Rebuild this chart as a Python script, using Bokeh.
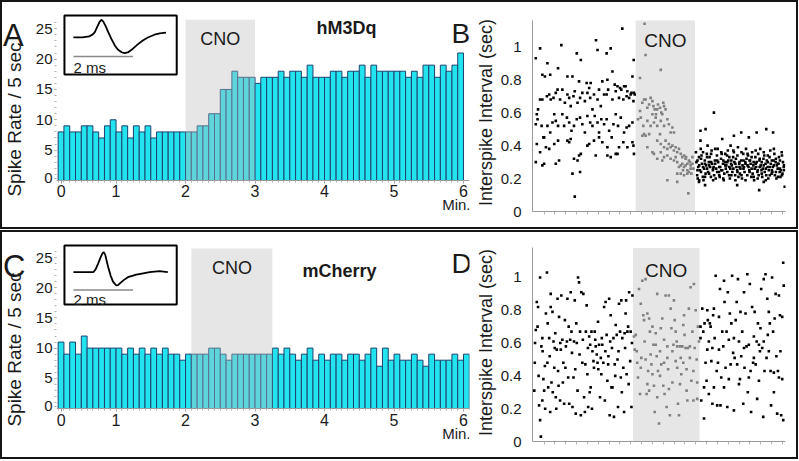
import math
from bokeh.plotting import figure
from bokeh.layouts import row, column
from bokeh.models import Range1d, FixedTicker, Label, NumeralTickFormatter, AllLabels
from bokeh.embed import file_html
from bokeh.resources import INLINE

FONT = "Liberation Sans"

# ---------------- data ----------------
BIN_MIN = 5 / 60          # 5 s bins, in minutes
START_MIN = 10 / 60       # first bin start

A_RATE = [8, 9, 8, 8, 9, 9, 8, 7, 9, 10, 8, 9, 7, 9, 8, 9, 7, 8, 8, 8, 8, 8,
          8, 8, 9, 9, 11, 11, 15, 15, 18, 17, 17, 17,
          16, 17, 17, 17, 18, 17, 18, 18, 17, 19, 17, 17, 17, 18, 18, 17, 18, 18,
          19, 17, 19, 18, 18, 18, 18, 18, 17, 18, 17, 19, 19, 17, 19, 18, 19, 21]
C_RATE = [11, 9, 11, 9, 12, 10, 10, 10, 10, 10, 10, 9, 10, 9, 10, 9, 10, 9, 10, 9, 9, 8, 9,
          9, 9, 9, 10, 10, 9, 8, 9, 9, 9, 9, 9, 9, 9,
          10, 9, 10, 9, 8, 9, 10, 8, 9, 8, 9, 9, 8, 9, 9, 8, 9, 10, 7, 10, 8, 9, 8, 8,
          9, 8, 7, 9, 8, 8, 8, 9, 8, 9]
A_CNO = [2.0, 3.0]
C_CNO = [125 / 60, 195 / 60]
B_CNO = [40.8, 64.2]
D_CNO = [39.7, 66.0]

# the reference prints its "0" label a little right of the first bin edge
TIME_TICKS = [0.21, 1, 2, 3, 4, 5, 6]
TIME_LABELS = ["0", "1", "2", "3", "4", "5", "6"]
RATE_TICKS = [0, 5, 10, 15, 20, 25]
RATE_LABELS = ["0", "5", "10", "15", "20", "25"]
ISI_TICKS = [0, 0.2, 0.4, 0.6, 0.8, 1.0]

# spike waveforms (ms, normalised amplitude)
WAVE_A_T = [0, 0.3, 0.53, 0.65, 0.72, 0.8, 0.88, 0.94, 1.0, 1.08, 1.17, 1.28, 1.39, 1.5,
            1.62, 1.72, 1.85, 2.0, 2.15, 2.33, 2.5, 2.72, 2.9, 3.11]
WAVE_A_V = [0, 0, 0.06, 0.18, 0.31, 0.62, 0.92, 1.04, 0.95, 0.68, 0.31, -0.1, -0.47, -0.72,
            -0.87, -0.92, -0.86, -0.66, -0.42, -0.18, 0.0, 0.16, 0.24, 0.28]
WAVE_C_T = [0, 0.4, 0.67, 0.75, 0.83, 0.92, 0.98, 1.02, 1.07, 1.12, 1.17, 1.25, 1.33, 1.44,
            1.5, 1.56, 1.7, 1.83, 2.0, 2.11, 2.3, 2.56, 2.89, 3.17]
WAVE_C_V = [0, 0, 0, 0.18, 0.51, 0.9, 1.12, 1.18, 1.02, 0.65, 0.29, -0.2, -0.55, -0.78,
            -0.76, -0.66, -0.45, -0.29, -0.2, -0.14, -0.08, 0, 0.06, 0]
SCALE_MS = 2

# interspike intervals (time in % of record, ISI in s)
B_PRE = [(1.3, 0.93), (3.0, 0.99), (11.4, 1.01), (25.1, 1.04), (25.7, 0.98), (30.9, 0.99),
         (29.3, 0.96), (17.5, 0.96), (19.1, 0.92), (35.5, 1.11), (40.0, 0.92),
         (5.9, 0.90), (3.9, 0.83), (4.9, 0.82), (7.0, 0.83), (10.1, 0.87), (13.8, 0.82),
         (15.8, 0.82), (18.4, 0.79), (21.4, 0.78), (22.4, 0.75), (23.0, 0.78), (27.6, 0.79),
         (29.6, 0.80), (31.6, 0.85), (32.5, 0.77), (33.6, 0.76), (34.6, 0.75), (36.2, 0.76),
         (36.8, 0.76), (37.5, 0.73), (38.8, 0.71), (40.1, 0.72), (39.5, 0.82),
         (1.7, 0.59), (2.2, 0.62), (3.0, 0.68), (3.9, 0.68), (5.7, 0.70), (6.6, 0.71),
         (7.2, 0.68), (8.3, 0.69), (9.2, 0.72), (9.9, 0.74), (10.9, 0.68), (11.8, 0.74),
         (12.8, 0.66), (13.8, 0.71), (14.5, 0.69), (15.1, 0.64), (16.2, 0.70), (16.7, 0.73),
         (17.8, 0.66), (18.8, 0.69), (19.7, 0.72), (20.7, 0.67), (21.7, 0.72), (22.8, 0.69),
         (23.7, 0.62), (24.3, 0.71), (25.7, 0.68), (26.3, 0.74), (27.0, 0.64), (28.3, 0.71),
         (29.3, 0.71), (29.9, 0.74), (31.6, 0.68), (32.9, 0.73), (34.2, 0.69), (35.1, 0.74),
         (35.9, 0.68), (37.2, 0.70), (38.2, 0.69), (39.1, 0.72), (39.9, 0.67), (40.4, 0.71),
         (1.3, 0.53), (2.0, 0.56), (3.6, 0.52), (4.6, 0.45), (5.9, 0.52), (7.0, 0.48),
         (7.9, 0.54), (8.6, 0.59), (9.2, 0.55), (10.1, 0.52), (11.8, 0.59), (12.5, 0.52),
         (13.6, 0.57), (14.5, 0.54), (15.4, 0.49), (16.4, 0.52), (17.5, 0.56), (18.8, 0.57),
         (19.7, 0.53), (20.7, 0.48), (21.7, 0.58), (22.8, 0.54), (23.7, 0.52), (24.6, 0.58),
         (25.7, 0.54), (26.3, 0.48), (27.2, 0.56), (28.3, 0.53), (29.3, 0.56), (30.3, 0.49),
         (32.0, 0.53), (32.9, 0.59), (33.8, 0.52), (34.9, 0.57), (36.2, 0.48), (37.2, 0.51),
         (38.2, 0.52), (39.5, 0.54),
         (1.7, 0.41), (3.0, 0.36), (4.3, 0.45), (5.3, 0.39), (6.6, 0.38), (8.6, 0.41),
         (10.1, 0.43), (13.8, 0.43), (14.5, 0.42), (15.1, 0.44), (17.8, 0.31), (19.1, 0.35),
         (21.7, 0.40), (22.4, 0.41), (24.3, 0.43), (26.3, 0.45), (27.6, 0.42), (29.6, 0.39),
         (31.3, 0.45), (32.9, 0.35), (34.2, 0.39), (35.9, 0.42), (37.5, 0.39), (39.5, 0.42),
         (39.9, 0.40), (40.1, 0.35), (1.3, 0.30), (3.9, 0.28), (4.6, 0.29), (9.2, 0.29),
         (10.5, 0.31), (25.0, 0.34), (29.6, 0.34), (30.9, 0.33), (33.6, 0.35), (16.4, 0.32),
         (18.4, 0.34), (15.8, 0.23), (18.8, 0.24), (16.7, 0.09)]
B_DURING = [(41.7, 0.56), (42.5, 0.61), (43.4, 0.66), (44.1, 0.68), (44.7, 0.68), (45.4, 0.63),
            (46.1, 0.65), (46.7, 0.69), (47.4, 0.67), (47.8, 0.64), (48.3, 0.62), (48.8, 0.59),
            (49.3, 0.62), (49.6, 0.65), (50.4, 0.63), (50.9, 0.60), (51.3, 0.59), (51.7, 0.66),
            (52.0, 0.64), (52.6, 0.62), (44.1, 0.47), (44.7, 0.46), (46.1, 0.47), (42.8, 0.57),
            (43.8, 0.52), (45.4, 0.55), (46.7, 0.52), (47.4, 0.59), (48.0, 0.54), (48.7, 0.57),
            (49.3, 0.52), (50.7, 0.55), (52.0, 0.52), (53.3, 0.56), (53.9, 0.53), (54.6, 0.48),
            (55.3, 0.51), (55.9, 0.48), (49.3, 0.43), (50.7, 0.41), (52.0, 0.39), (52.6, 0.43),
            (53.3, 0.38), (53.9, 0.41), (54.6, 0.39), (55.3, 0.40), (55.9, 0.37), (56.6, 0.39),
            (57.2, 0.36), (57.9, 0.38), (58.6, 0.35), (59.2, 0.33), (59.9, 0.34), (60.5, 0.32),
            (61.2, 0.29), (61.8, 0.31), (62.5, 0.28), (63.2, 0.29), (50.7, 0.36), (52.0, 0.33),
            (53.3, 0.34), (54.6, 0.32), (55.9, 0.31), (57.2, 0.30), (58.6, 0.28), (59.9, 0.27),
            (61.2, 0.25), (62.5, 0.26), (63.2, 0.33), (57.2, 0.23), (58.6, 0.23), (59.9, 0.22),
            (61.2, 0.23), (61.8, 0.24), (63.6, 0.26), (49.3, 0.32), (51.3, 0.31), (47.4, 0.36),
            (48.0, 0.35), (53.3, 0.19), (57.2, 0.18), (61.6, 0.11), (50.4, 0.47), (45.4, 0.39),
            (44.7, 0.95), (50.7, 0.86), (42.5, 0.81), (43.4, 0.46), (44.3, 1.14), (59.2, 0.29),
            (60.5, 0.28), (59.5, 0.25), (62.2, 0.30), (62.8, 0.23), (60.7, 0.33), (57.9, 0.27),
            (56.6, 0.33)]
B_POST = [(64.8, .30), (65.1, .22), (64.6, .36), (65.5, .27), (65.8, .33), (65.3, .20),
          (66.2, .25), (66.5, .38), (67.0, .29), (67.3, .21), (66.8, .34), (67.8, .26),
          (68.1, .31), (67.6, .19), (68.6, .28), (68.9, .35), (68.4, .23), (69.4, .24),
          (69.7, .30), (69.2, .40), (70.2, .27), (70.5, .21), (70.0, .33), (71.0, .29),
          (71.3, .25), (70.8, .37), (71.8, .22), (72.1, .31), (71.6, .27), (72.6, .26),
          (72.9, .34), (72.4, .20), (73.4, .30), (73.7, .24), (73.2, .38), (74.2, .27),
          (74.5, .32), (74.0, .21), (75.0, .25), (75.3, .29), (74.8, .35), (75.8, .23),
          (76.1, .30), (75.6, .19), (76.6, .28), (76.9, .34), (76.4, .26), (77.4, .31),
          (77.7, .22), (77.2, .37), (78.2, .26), (78.5, .29), (78.0, .20), (79.0, .24),
          (79.3, .33), (78.8, .28), (79.8, .30), (80.1, .22), (79.6, .36), (80.6, .27),
          (80.9, .25), (80.4, .32), (81.4, .21), (81.7, .29), (81.2, .39), (82.2, .26),
          (82.5, .31), (82.0, .23), (83.0, .28), (83.3, .35), (82.8, .20), (83.8, .24),
          (84.1, .30), (83.6, .27), (84.6, .32), (84.9, .22), (84.4, .38), (85.4, .27),
          (85.7, .25), (85.2, .34), (86.2, .29), (86.5, .21), (86.0, .31), (87.0, .23),
          (87.3, .28), (86.8, .36), (87.8, .26), (88.1, .33), (87.6, .19), (88.6, .30),
          (88.9, .24), (88.4, .27), (89.4, .22), (89.7, .31), (89.2, .35), (90.2, .28),
          (90.5, .25), (90.0, .38), (91.0, .26), (91.3, .32), (90.8, .21), (91.8, .24),
          (92.1, .29), (91.6, .34), (92.6, .31), (92.9, .27), (92.4, .22), (93.4, .25),
          (93.7, .33), (93.2, .20), (94.2, .29), (94.5, .23), (94.0, .37), (95.0, .27),
          (95.3, .31), (94.8, .24), (95.8, .22), (96.1, .30), (95.6, .35), (96.6, .28),
          (96.9, .26), (96.4, .20), (97.4, .33), (97.7, .24), (97.2, .29), (98.2, .25),
          (98.5, .36), (98.0, .21), (99.0, .30), (99.3, .27), (98.8, .23),
          (65.2, .25), (65.2, .31), (65.9, .28), (65.9, .19), (66.6, .32), (66.6, .24),
          (67.4, .27), (67.4, .36), (68.2, .21), (68.2, .29), (69.0, .33), (69.0, .26),
          (69.8, .23), (69.8, .28), (70.6, .35), (70.6, .30), (71.4, .19), (71.4, .26),
          (72.2, .29), (72.2, .38), (73.0, .24), (73.0, .31), (73.8, .27), (73.8, .22),
          (74.6, .36), (74.6, .25), (75.4, .20), (75.4, .31), (76.2, .28), (76.2, .35),
          (77.0, .24), (77.0, .30), (77.8, .33), (77.8, .27), (78.6, .22), (78.6, .31),
          (79.4, .26), (79.4, .37), (80.2, .29), (80.2, .19), (81.0, .34), (81.0, .24),
          (81.8, .27), (81.8, .30), (82.6, .22), (82.6, .36), (83.4, .31), (83.4, .26),
          (84.2, .19), (84.2, .29), (85.0, .28), (85.0, .35), (85.8, .24), (85.8, .31),
          (86.6, .33), (86.6, .26), (87.4, .21), (87.4, .30), (88.2, .29), (88.2, .37),
          (89.0, .25), (89.0, .20), (89.8, .32), (89.8, .27), (90.6, .23), (90.6, .30),
          (91.4, .36), (91.4, .28), (92.2, .26), (92.2, .19), (93.0, .30), (93.0, .34),
          (93.8, .22), (93.8, .27), (94.6, .31), (94.6, .25), (95.4, .28), (95.4, .38),
          (96.2, .24), (96.2, .32), (97.0, .29), (97.0, .21), (97.8, .26), (97.8, .31),
          (98.6, .34), (98.6, .22), (99.4, .28), (99.4, .25),
          (71.7, 0.60), (66.4, 0.49), (68.4, 0.50), (82.5, 0.48), (88.6, 0.48), (92.4, 0.50),
          (95.1, 0.48), (66.4, 0.43), (75.0, 0.44), (79.6, 0.46), (85.5, 0.45), (78.3, 0.40),
          (91.4, 0.18), (89.6, 0.13), (99.7, 0.15), (80.9, 0.16), (65.8, 0.18), (68.2, 0.16)]

D_PRE = [(0.7, 0.31), (0.9, 0.48), (1.3, 0.68), (1.7, 0.85), (2.0, 0.70), (2.2, 0.82), (2.6, 0.22),
         (3.0, 0.13), (3.0, 1.00), (3.3, 0.03), (3.9, 0.63), (4.3, 0.38), (3.9, 0.25), (4.6, 0.31),
         (4.9, 0.46), (5.3, 0.78), (5.7, 1.03), (5.9, 0.48), (6.2, 0.33), (6.6, 0.63), (7.0, 0.18),
         (7.2, 0.90), (7.5, 0.36), (7.2, 0.82), (7.9, 0.79), (8.3, 0.61), (8.6, 0.45), (8.8, 0.57),
         (9.2, 0.27), (9.6, 0.56), (9.9, 0.87), (10.1, 0.43), (10.5, 0.76), (10.9, 0.25),
         (11.2, 0.56), (11.4, 0.89), (11.8, 0.62), (12.2, 0.48), (12.5, 0.23), (12.8, 0.74),
         (13.2, 0.58), (13.6, 0.61), (13.8, 0.87), (14.1, 0.39), (14.5, 0.23), (14.9, 0.62),
         (15.1, 0.91), (15.4, 0.67), (15.8, 0.21), (16.2, 0.39), (16.4, 0.61), (16.7, 0.86),
         (17.1, 0.17), (17.5, 0.60), (17.8, 0.31), (18.0, 1.00), (18.4, 0.97), (18.8, 0.67),
         (19.1, 0.16), (19.3, 0.91), (19.7, 0.48), (20.1, 0.90), (20.4, 0.27), (20.7, 0.18),
         (21.1, 0.67), (21.4, 0.83), (21.7, 0.41), (22.0, 0.21), (22.4, 0.64), (22.8, 0.59),
         (23.0, 0.33), (23.3, 0.67), (23.7, 0.55), (24.1, 0.49), (24.3, 0.45), (24.6, 0.67),
         (25.0, 0.58), (25.4, 0.53), (25.7, 0.48), (25.9, 0.73), (26.3, 0.59), (26.7, 0.27),
         (27.0, 0.51), (27.2, 0.41), (27.6, 0.59), (28.0, 0.48), (28.3, 0.82), (28.6, 0.25),
         (28.9, 0.85), (29.3, 0.65), (29.6, 0.37), (29.9, 0.47), (30.3, 0.87), (30.7, 0.61),
         (30.9, 0.77), (31.2, 0.33), (31.6, 0.33), (32.0, 0.63), (32.2, 0.15), (32.5, 0.47),
         (32.9, 0.71), (33.3, 0.65), (33.6, 0.50), (33.8, 0.21), (34.2, 0.84), (34.6, 0.67),
         (34.9, 0.39), (35.1, 0.86), (35.5, 0.63), (35.9, 0.45), (36.2, 0.18), (36.4, 0.66),
         (36.8, 0.78), (37.2, 0.41), (37.5, 0.67), (37.8, 0.70), (38.2, 0.91), (38.6, 0.49),
         (38.8, 0.67), (39.1, 0.21), (39.5, 0.89),
         (1.0, 0.60), (2.4, 0.40), (4.0, 0.55), (5.0, 0.20), (6.0, 0.72), (6.8, 0.52), (8.0, 0.30),
         (9.0, 0.66), (10.3, 0.34), (11.0, 0.60), (12.0, 0.36), (13.0, 0.45), (14.3, 0.70),
         (15.6, 0.54), (16.9, 0.44), (17.3, 0.72), (18.6, 0.53), (19.9, 0.62), (20.9, 0.47),
         (21.9, 0.57), (23.5, 0.20), (24.8, 0.62), (26.0, 0.44), (27.4, 0.63), (28.8, 0.55),
         (30.0, 0.52), (31.4, 0.57), (32.7, 0.40), (34.0, 0.55), (35.3, 0.30), (36.6, 0.57),
         (38.0, 0.35), (39.3, 0.60), (3.5, 0.58), (9.4, 0.20), (22.6, 0.30), (30.5, 0.16),
         (37.0, 0.86)]
D_DURING = [(40.1, 0.64), (40.4, 0.56), (40.8, 0.65), (41.2, 0.55), (41.4, 0.48), (41.7, 0.39),
            (42.1, 0.93), (42.5, 0.29), (42.8, 0.84), (43.0, 0.51), (43.4, 0.98), (43.8, 0.77),
            (44.1, 0.74), (44.3, 0.61), (44.7, 0.99), (45.1, 0.29), (45.4, 0.78), (45.7, 0.43),
            (46.1, 0.75), (46.4, 0.67), (46.7, 0.53), (47.0, 0.47), (47.4, 0.70), (47.8, 0.59),
            (48.0, 0.34), (48.3, 0.18), (48.7, 0.66), (49.1, 0.52), (49.3, 0.90), (49.6, 0.43),
            (50.0, 0.11), (50.4, 0.55), (50.7, 0.69), (50.9, 0.47), (51.3, 0.75), (51.7, 0.34),
            (52.0, 0.62), (52.2, 0.29), (52.6, 0.89), (53.0, 0.21), (53.3, 0.51), (53.6, 0.44),
            (53.9, 0.89), (54.3, 0.16), (54.6, 0.81), (54.9, 0.69), (55.3, 0.36), (55.7, 0.59),
            (55.9, 0.86), (56.2, 0.74), (56.6, 0.49), (57.0, 0.61), (57.2, 0.45), (57.5, 0.23),
            (57.9, 0.16), (58.3, 0.58), (58.6, 0.51), (58.8, 0.41), (59.2, 0.58), (59.6, 0.48),
            (59.9, 0.77), (60.1, 0.65), (60.5, 0.57), (60.9, 0.44), (61.2, 0.25), (61.4, 0.57),
            (61.8, 0.81), (62.2, 0.51), (62.5, 0.94), (62.8, 0.37), (63.2, 0.67), (63.6, 0.25),
            (63.8, 0.96), (64.1, 0.57), (64.5, 0.80), (64.9, 0.50), (65.1, 0.36), (65.4, 0.70),
            (65.8, 0.61), (42.8, 0.45), (44.7, 0.50), (46.1, 0.31), (47.4, 0.41), (48.7, 0.59),
            (50.4, 0.40), (52.0, 0.48), (53.9, 0.32), (55.3, 0.55), (56.6, 0.67), (58.3, 0.35),
            (59.6, 0.71), (60.9, 0.31), (62.2, 0.58), (63.6, 0.43), (65.1, 0.26), (53.3, 0.58),
            (49.3, 0.27), (45.4, 0.35), (57.2, 0.58)]
D_POST = [(66.4, 0.70), (66.7, 0.25), (67.1, 0.81), (67.5, 0.67), (67.8, 0.14), (68.0, 0.72),
          (68.4, 0.48), (68.8, 0.37), (69.1, 0.80), (69.3, 0.74), (69.7, 0.61), (70.1, 0.72),
          (70.4, 0.70), (70.7, 0.49), (71.1, 0.23), (71.4, 0.77), (71.7, 0.81), (72.0, 0.63),
          (72.4, 1.01), (72.8, 0.43), (73.0, 0.22), (73.3, 0.48), (73.7, 0.76), (74.1, 0.93),
          (74.3, 0.22), (74.6, 0.39), (75.0, 0.67), (75.4, 0.58), (75.7, 0.98), (75.9, 0.85),
          (76.3, 0.45), (76.7, 0.67), (77.0, 0.21), (77.2, 0.91), (77.6, 0.62), (78.0, 0.78),
          (78.3, 0.47), (78.6, 0.72), (78.9, 1.01), (79.3, 0.54), (79.6, 0.19), (79.9, 0.51),
          (80.3, 0.74), (80.7, 0.85), (80.9, 0.47), (81.2, 0.99), (81.6, 0.61), (82.0, 0.38),
          (82.2, 0.79), (82.5, 0.52), (82.9, 0.67), (83.3, 0.23), (83.6, 0.91), (83.8, 0.45),
          (84.2, 0.78), (84.6, 0.58), (84.9, 1.02), (85.1, 0.30), (85.5, 0.59), (85.9, 0.96),
          (86.2, 0.43), (86.4, 0.18), (86.8, 0.82), (87.2, 0.48), (87.5, 0.64), (87.8, 0.79),
          (88.2, 0.47), (88.6, 0.61), (88.8, 0.26), (89.1, 0.72), (89.5, 0.59), (89.9, 0.55),
          (90.1, 0.69), (90.4, 0.93), (90.8, 0.57), (91.2, 0.15), (91.4, 0.99), (91.7, 0.43),
          (92.1, 1.02), (92.5, 0.51), (92.8, 0.87), (93.0, 0.65), (93.4, 0.79), (93.8, 0.72),
          (94.1, 0.43), (94.3, 0.22), (94.7, 1.00), (95.1, 0.67), (95.4, 0.42), (95.7, 0.75),
          (96.1, 0.90), (96.4, 0.52), (96.7, 0.17), (97.0, 0.43), (97.4, 0.89), (97.8, 0.77),
          (98.0, 0.55), (98.3, 0.16), (98.7, 0.38), (99.1, 1.09), (99.1, 0.13), (99.3, 0.95),
          (67.8, 0.33), (69.7, 0.29), (71.7, 0.33), (73.7, 0.56), (75.7, 0.33), (77.6, 0.38),
          (79.6, 0.63), (81.6, 0.35), (83.6, 0.57), (85.5, 0.39), (87.5, 0.51), (89.5, 0.37),
          (91.4, 0.61), (93.4, 0.55), (95.4, 0.30), (97.4, 0.39), (98.7, 0.76), (66.4, 0.63),
          (69.1, 0.56), (71.1, 0.57)]

# ---------------- styling ----------------
CYAN = "#22e4ee"
EDGE = "#1d4270"
SHADE = "#e6e6e6"
AXIS_GREY = "#9a9a9a"
INK = "#1a1a1a"

# every figure in a row shares the same frame top/bottom (11 px above, 16 px below)
MB_TOP, MB_BOT = 11, 16


def style_axis(ax, size="16px"):
    ax.axis_line_color = AXIS_GREY
    ax.major_tick_line_color = AXIS_GREY
    ax.minor_tick_line_color = "#b0b0b0"
    ax.major_tick_in = 0
    ax.minor_tick_in = 0
    ax.major_label_text_font = FONT
    ax.major_label_text_font_size = size
    ax.major_label_text_color = INK
    ax.axis_label_text_font = FONT
    ax.axis_label_text_font_style = "normal"
    ax.axis_label_text_color = INK
    ax.major_label_policy = AllLabels()


def add_label(p, text, x, y, size, x_units="screen", y_units="screen", align="left",
              bold=False, baseline="alphabetic", **kw):
    p.add_layout(Label(x=x, y=y, x_units=x_units, y_units=y_units, text=text,
                       text_font=FONT, text_font_size=size, text_align=align,
                       text_baseline=baseline, text_color=INK,
                       text_font_style="bold" if bold else "normal", **kw))


def base_fig(width, xr, yr, mbl, mbr, **kw):
    p = figure(width=width, height=225, x_range=xr, y_range=yr, title=None,
               output_backend="svg", toolbar_location=None,
               min_border_left=mbl, min_border_right=mbr,
               min_border_top=MB_TOP, min_border_bottom=MB_BOT, **kw)
    p.grid.visible = False
    p.outline_line_color = None
    p.background_fill_color = "white"
    p.border_fill_color = "white"
    return p


def strip_fig(letter, y0, letter_base, title_mid):
    """Left strip holding the panel letter and the rotated y-axis title (page-pixel ranges)."""
    s = base_fig(30, Range1d(2, 32), Range1d(y0 + 198, y0), 0, 0,
                 x_axis_location=None, y_axis_location=None)
    add_label(s, letter, 2.5, letter_base, "31px", x_units="data", y_units="data")
    add_label(s, "Spike Rate / 5 sec", 14, title_mid, "19px", x_units="data", y_units="data",
              align="center", baseline="middle", angle=math.pi / 2)
    return s


def rate_fig(rates, cno, wave_t, wave_v, g, yr, name):
    p = base_fig(440, Range1d(0.143, 6.086), Range1d(*yr), 21, 3)
    left = [START_MIN + i * BIN_MIN for i in range(len(rates))]
    right = [l + BIN_MIN for l in left]
    p.quad(left=left, right=right, bottom=0, top=rates, fill_color=CYAN,
           line_color=EDGE, line_width=1)
    p.quad(left=[cno[0]], right=[cno[1]], bottom=[0], top=[26.5],
           fill_color="#bdbdbd", fill_alpha=0.38, line_color=None)
    # inset with spike waveform
    p.extra_x_ranges = {"ms": Range1d(-0.567, 13.3)}
    p.extra_y_ranges = {"amp": Range1d(g["lo"], g["hi"])}
    p.quad(left=[-0.3], right=[3.47], top=[g["top"]], bottom=[g["bot"]],
           fill_color="white", line_color="black", line_width=2,
           x_range_name="ms", y_range_name="amp")
    p.line(wave_t, wave_v, line_color="black", line_width=1.8,
           x_range_name="ms", y_range_name="amp")
    p.line([0, SCALE_MS], [g["bar"], g["bar"]], line_color="#8a8a8a", line_width=1.5,
           x_range_name="ms", y_range_name="amp")
    p.add_layout(Label(x=0, y=g["lab"], x_range_name="ms", y_range_name="amp",
                       text=f"{SCALE_MS} ms", text_font=FONT, text_font_size="15px",
                       text_baseline="top", text_color=INK))
    # y axis: dotted look from minor ticks only; "0" tick nudged off the x-axis crossing
    style_axis(p.yaxis[0], "15px")
    ytick_pos = [max(t, 0.4) for t in RATE_TICKS]
    p.yaxis.ticker = FixedTicker(ticks=ytick_pos, minor_ticks=list(range(1, 27)))
    p.yaxis.major_label_overrides = dict(zip(ytick_pos, RATE_LABELS))
    p.yaxis.axis_line_color = None
    p.yaxis.major_label_standoff = 2
    p.yaxis.major_tick_out = 2
    p.yaxis.minor_tick_out = 2
    # x axis drawn at rate 0 inside the shared frame
    style_axis(p.xaxis[0])
    p.xaxis.fixed_location = 0
    p.xaxis.ticker = FixedTicker(ticks=TIME_TICKS,
                                 minor_ticks=[START_MIN + i * BIN_MIN for i in range(len(rates) + 1)])
    p.xaxis.major_label_overrides = dict(zip(TIME_TICKS, TIME_LABELS))
    p.xaxis.major_tick_out = 3
    p.xaxis.minor_tick_out = 2
    p.xaxis.major_label_standoff = 2
    # texts inside the frame
    add_label(p, "CNO", (cno[0] + cno[1]) / 2, g["cno_y"], "18px", x_units="data", align="center")
    add_label(p, name, g["name_x"], g["name_y"], "18px", bold=True)
    add_label(p, g["letter2"], 395, g["l2_y"], "28px")
    add_label(p, "Min.", 414, g["min_y"], "15px", align="right")
    return p


def isi_fig(pre, during, post, cno, ytop, yshade, cno_y):
    p = base_fig(324, Range1d(0, 100), Range1d(0, ytop), 60, 11)
    p.quad(left=[cno[0]], right=[cno[1]], bottom=[0], top=[yshade],
           fill_color=SHADE, line_color=None)
    for pts, col in ((pre, "black"), (during, "#808080"), (post, "black")):
        p.scatter([q[0] for q in pts], [q[1] for q in pts], marker="square", size=2.6,
                  fill_color=col, line_color=None)
    style_axis(p.yaxis[0], "15px")
    p.yaxis.ticker = FixedTicker(ticks=ISI_TICKS, minor_ticks=[])
    p.yaxis.bounds = (0, yshade)
    p.yaxis.formatter = NumeralTickFormatter(format="0.[0]")
    p.yaxis.axis_label = "Interspike Interval (sec)"
    p.yaxis.axis_label_text_font_size = "18px"
    p.yaxis.axis_label_standoff = 2
    p.yaxis.major_label_standoff = 11
    p.yaxis.major_tick_out = 0
    style_axis(p.xaxis[0])
    p.xaxis.ticker = FixedTicker(ticks=[], minor_ticks=[4.6 + 4.28 * k for k in range(23)])
    p.xaxis.minor_tick_out = 3
    p.xaxis.major_tick_out = 0
    add_label(p, "CNO", (cno[0] + cno[1]) / 2, cno_y, "19px", x_units="data", align="center")
    return p


# top row frame: page y 13 -> 211 ; bottom row frame: page y 243 -> 441
GA = dict(lo=-10.24, hi=1.41, top=1.29, bot=-2.18, bar=-1.12, lab=-1.24,
          cno_y=173, name_x=260, name_y=184, letter2="B", l2_y=178, min_y=7)
GC = dict(lo=-9.96, hi=1.69, top=1.57, bot=-1.9, bar=-1.04, lab=-1.1,
          cno_y=174, name_x=246, name_y=171, letter2="D", l2_y=178, min_y=8)

sA = strip_fig("A", 13, 35, 119)
pA = rate_fig(A_RATE, A_CNO, WAVE_A_T, WAVE_A_V, GA, (-5.11, 27.51), "hM3Dq")
pB = isi_fig(B_PRE, B_DURING, B_POST, B_CNO, 1.202, 1.16, 171)
sC = strip_fig("C", 243, 266, 349)
pC = rate_fig(C_RATE, C_CNO, WAVE_C_T, WAVE_C_V, GC, (-5.46, 27.32), "mCherry")
pD = isi_fig(D_PRE, D_DURING, D_POST, D_CNO, 1.207, 1.18, 171)

BOX = {"border": "2px solid #151515"}
top = row(sA, pA, pB, styles=BOX)
bottom = row(sC, pC, pD, styles=BOX)
layout = column(top, bottom, spacing=1)

open("out.html", "w").write(file_html(layout, INLINE, title="DREADD spike rates"))
